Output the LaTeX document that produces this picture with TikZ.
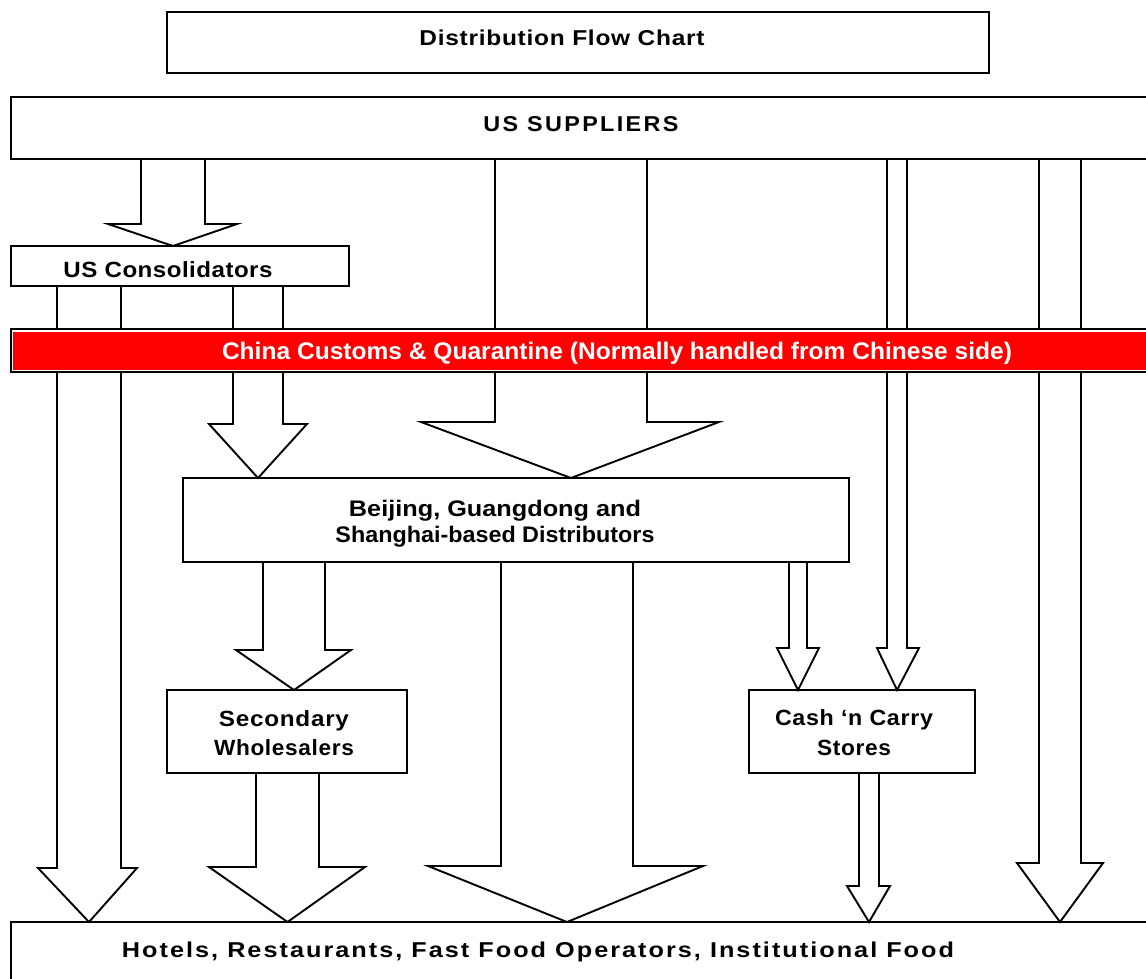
\documentclass[tikz,border=0pt]{standalone}
\usepackage{fontspec}
\usepackage{graphicx}
\setmainfont{Liberation Sans}
\newfontfamily\arialf{Liberation Sans}
\newcommand\blockarrow[7]{% from, to, xl, xr, hl, hr, headY
  \pgfmathsetmacro\tipx{(#3+#4)/2}
  \draw[arr] (#3,0 |- #1.south) -- (#3,#7) -- (#5,#7) -- (\tipx,0 |- #2.north)
    -- (#6,#7) -- (#4,#7) -- (#4,0 |- #1.south) -- cycle;
}
\newcommand\ls[2]{{\addfontfeature{LetterSpace=#1}#2}}
\newcommand\fitw[2]{\resizebox{#1pt}{\height}{#2}}
\begin{document}
\begin{tikzpicture}[x=1pt,y=-1pt,line width=1.9pt,
  box/.style={draw, fill=white, rectangle, inner sep=0pt, outer sep=0pt, anchor=north west},
  lbl/.style={inner sep=0pt, anchor=base, align=center, text=black},
  arr/.style={draw, fill=white, line join=miter}]
\clip (0,0) rectangle (1146,979);
\useasboundingbox (0,0) rectangle (1146,979);
% boxes
\node[box, minimum width=822pt, minimum height=61pt] (title) at (167,12) {};
\node[box, minimum width=1150pt, minimum height=62pt] (sup) at (11,97) {};
\node[box, minimum width=338pt, minimum height=40pt] (cons) at (11,246) {};
\node[box, minimum width=666pt, minimum height=84pt] (dist) at (183,478) {};
\node[box, minimum width=240pt, minimum height=83pt] (sec) at (167,690) {};
\node[box, minimum width=226pt, minimum height=83pt] (cash) at (749,690) {};
\node[box, minimum width=1150pt, minimum height=70pt] (hot) at (11,922) {};
% block arrows
\blockarrow{sup}{cons}{141}{205}{108}{237}{224}
\blockarrow{cons}{hot}{57}{121}{38}{137}{868}
\blockarrow{cons}{dist}{233}{283}{209}{307}{424}
\blockarrow{sup}{dist}{495}{647}{421}{719}{422}
\blockarrow{sup}{cash}{887}{907}{877}{919}{648}
\blockarrow{sup}{hot}{1039}{1081}{1017}{1103}{863}
\blockarrow{dist}{sec}{263}{325}{236}{351}{650}
\blockarrow{dist}{hot}{501}{633}{428}{703}{866}
\blockarrow{dist}{cash}{789}{807}{777}{819}{648}
\blockarrow{sec}{hot}{256}{319}{209}{365}{867}
\blockarrow{cash}{hot}{859}{879}{847}{890}{886}
% customs bar
\node[box, minimum width=1150pt, minimum height=43pt] (customs) at (11,329) {};
\fill[red] ([shift={(2pt,-2.5pt)}]customs.north west) rectangle ([shift={(0pt,2.5pt)}]customs.south east);
% texts
\node[lbl, font={\arialf\bfseries\fontsize{21.5pt}{25pt}\selectfont}] (titleT) at (562,46) {\fitw{285}{\ls{3}{Distribution Flow Chart}}};
\node[lbl, font={\arialf\bfseries\fontsize{21.5pt}{24pt}\selectfont}] (supT) at (581,131.7) {\fitw{195}{\ls{10}{US SUPPLIERS}}};
\node[lbl, font={\arialf\bfseries\fontsize{22pt}{25pt}\selectfont}] (consT) at (168,277.3) {\fitw{209}{\ls{2}{US Consolidators}}};
\node[lbl, text=white, font={\arialf\bfseries\fontsize{24pt}{28pt}\selectfont}] (customsT) at (617,359.3) {\fitw{790}{China Customs \& Quarantine (Normally handled from Chinese side)}};
\node[lbl, font={\arialf\bfseries\fontsize{22.5pt}{25.3pt}\selectfont}] (distT) at (495,542) {\fitw{292}{Beijing, Guangdong and}\\\fitw{319}{Shanghai-based Distributors}};
\node[lbl, font={\arialf\bfseries\fontsize{22pt}{28.3pt}\selectfont}] (secT) at (284,755) {\fitw{130}{\ls{3}{Secondary}}\\\fitw{140}{\ls{3}{Wholesalers}}};
\node[lbl, font={\arialf\bfseries\fontsize{22pt}{29.3pt}\selectfont}] (cashT) at (854,755) {\fitw{158}{\ls{3}{Cash ‘n Carry}}\\\fitw{74}{\ls{3}{Stores}}};
\node[lbl, font={\arialf\bfseries\fontsize{21.5pt}{24pt}\selectfont}] (hotT) at (538,957.3) {\fitw{832}{\ls{8}{Hotels, Restaurants, Fast Food Operators, Institutional Food}}};
\end{tikzpicture}
\end{document}
